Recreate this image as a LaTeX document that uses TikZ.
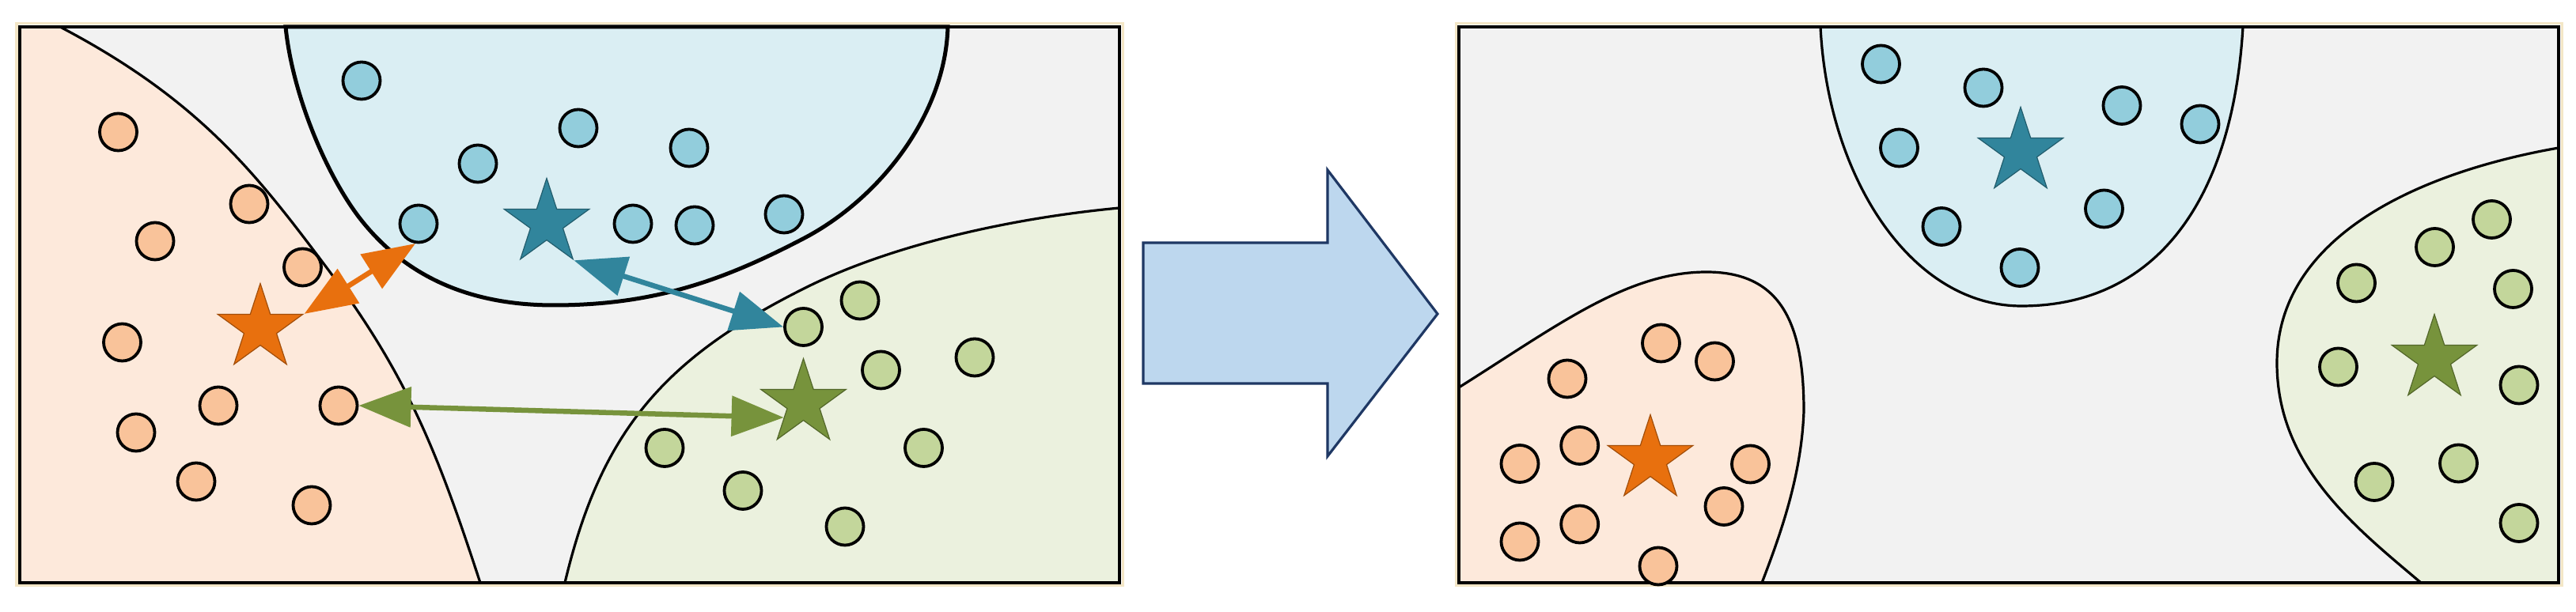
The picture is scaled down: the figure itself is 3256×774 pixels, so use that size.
\documentclass[tikz,border=0pt]{standalone}
\usetikzlibrary{shapes.geometric,arrows.meta}
\definecolor{bgGray}{HTML}{F2F2F2}
\definecolor{oReg}{HTML}{FDE9DB}
\definecolor{bReg}{HTML}{DAEEF3}
\definecolor{gReg}{HTML}{EBF1DE}
\definecolor{oDot}{HTML}{F9C39A}
\definecolor{bDot}{HTML}{92CDDC}
\definecolor{gDot}{HTML}{C3D69B}
\definecolor{oStar}{HTML}{E8700E}
\definecolor{bStar}{HTML}{31859C}
\definecolor{gStar}{HTML}{77933C}
\definecolor{bigFill}{HTML}{BDD7EE}
\definecolor{bigLine}{HTML}{1F3864}
\definecolor{frameBeige}{HTML}{F3E6C6}
\begin{document}
\begin{tikzpicture}[x=0.01cm,y=-0.01cm,
  dot/.style={circle,draw=black,line width=0.038cm,minimum size=0.47cm,inner sep=0pt},
  odot/.style={dot,fill=oDot},
  bdot/.style={dot,fill=bDot},
  gdot/.style={dot,fill=gDot},
  starnode/.style={star,star points=5,star point ratio=2.618,minimum size=1.13cm,inner sep=0pt,line width=0.012cm},
  ostar/.style={starnode,fill=oStar,draw=oStar!70!black},
  bstar/.style={starnode,fill=bStar,draw=bStar!70!black},
  gstar/.style={starnode,fill=gStar,draw=gStar!70!black},
  region/.style={draw=black,line width=0.032cm},
  boldregion/.style={draw=black,line width=0.05cm},
  panel/.style={draw=black,line width=0.032cm},
  beige/.style={draw=frameBeige,line width=0.03cm},
  conn/.style={line width=0.065cm,>={Triangle[length=0.66cm,width=0.5cm]},<->},
  bigarrow/.style={fill=bigFill,draw=bigLine,line width=0.032cm}
]
\fill[white] (0,0) rectangle (3256,774);
\useasboundingbox (0,0) rectangle (3256,774);

% ---------- left panel ----------
\draw[beige] (21,30) rectangle (1419,741);
\fill[bgGray] (25,34) rectangle (1415,737);
\filldraw[fill=oReg,region] (25,34) -- (76,34)
   .. controls (253,127) and (324,220) .. (414,340)
   .. controls (516,476) and (554,575) .. (607,737) -- (25,737) -- cycle;
\filldraw[fill=bReg,boldregion] (361,34)
   .. controls (370,124) and (417,232) .. (462,285)
   .. controls (520,354) and (600,386) .. (700,386)
   .. controls (830,386) and (917,353) .. (1015,302)
   .. controls (1113,251) and (1195,144) .. (1198,34) -- cycle;
\filldraw[fill=gReg,region] (1415,263)
   .. controls (1276,276) and (1127,310) .. (1020,363)
   .. controls (841,452) and (760,543) .. (714,737) -- (1415,737) -- cycle;
\draw[panel] (25,34) rectangle (1415,737);

\node[odot] (lo1) at (149.5,167) {};
\node[odot] (lo2) at (315,258) {};
\node[odot] (lo3) at (196,305) {};
\node[odot] (lo4) at (382.5,338) {};
\node[odot] (lo5) at (154.5,433) {};
\node[odot] (lo6) at (276,513) {};
\node[odot] (lo7) at (428,513) {};
\node[odot] (lo8) at (172,547) {};
\node[odot] (lo9) at (248,609) {};
\node[odot] (lo10) at (394,639) {};
\node[ostar] (los) at (329,415) {};

\node[bdot] (lb1) at (457,102) {};
\node[bdot] (lb2) at (604,207) {};
\node[bdot] (lb3) at (731,162) {};
\node[bdot] (lb4) at (871,187) {};
\node[bdot] (lb5) at (529,283) {};
\node[bdot] (lb6) at (800,283) {};
\node[bdot] (lb7) at (878,285) {};
\node[bdot] (lb8) at (991,271) {};
\node[bstar] (lbs) at (691,282) {};

\node[gdot] (lg1) at (1087,380) {};
\node[gdot] (lg2) at (1015.5,413.5) {};
\node[gdot] (lg3) at (1232,452) {};
\node[gdot] (lg4) at (1113.5,468) {};
\node[gdot] (lg5) at (840,566.5) {};
\node[gdot] (lg6) at (1167.5,566.5) {};
\node[gdot] (lg7) at (939,620.5) {};
\node[gdot] (lg8) at (1068,666) {};
\node[gstar] (lgs) at (1015.5,510) {};

\draw[conn,oStar] (los.18) -- (lb5.261);
\draw[conn,bStar] (lbs.306) -- (lg2.west);
\draw[conn,gStar] (lo7.east) -- (lgs.216);

% ---------- big arrow ----------
\draw[bigarrow] (1445,307) -- (1678,307) -- (1678,215) -- (1817,397) -- (1678,577) -- (1678,485) -- (1445,485) -- cycle;

% ---------- right panel ----------
\draw[beige] (1840,30) rectangle (3238,741);
\fill[bgGray] (1844,34) rectangle (3234,737);
\filldraw[fill=oReg,region] (1844,490)
   .. controls (1971,410) and (2057,344) .. (2157,344)
   .. controls (2252,344) and (2280,410) .. (2280,520)
   .. controls (2277,600) and (2252,672) .. (2227,737) -- (1844,737) -- cycle;
\filldraw[fill=bReg,region] (2301,34)
   .. controls (2310.5,224) and (2415,387) .. (2555,387)
   .. controls (2725,387) and (2822,254) .. (2835,34) -- cycle;
\filldraw[fill=gReg,region] (3234,187)
   .. controls (3057,218) and (2878,299) .. (2878,459)
   .. controls (2878,589) and (2976,666) .. (3060,737) -- (3234,737) -- cycle;
\draw[panel] (1844,34) rectangle (3234,737);

\node[odot] (ro1) at (2099.5,434) {};
\node[odot] (ro2) at (2167.5,457) {};
\node[odot] (ro3) at (1981,479) {};
\node[odot] (ro4) at (1996.7,563.5) {};
\node[odot] (ro5) at (1921,586.5) {};
\node[odot] (ro6) at (2212.5,587) {};
\node[odot] (ro7) at (2179,640.5) {};
\node[odot] (ro8) at (1996.7,663) {};
\node[odot] (ro9) at (1921,685) {};
\node[odot] (ro10) at (2096,716) {};
\node[ostar] (ros) at (2086,581) {};

\node[bdot] (rb1) at (2377.5,81) {};
\node[bdot] (rb2) at (2507,111) {};
\node[bdot] (rb3) at (2682,133.5) {};
\node[bdot] (rb4) at (2400.5,187) {};
\node[bdot] (rb5) at (2781,157) {};
\node[bdot] (rb6) at (2454,286.5) {};
\node[bdot] (rb7) at (2659.5,264) {};
\node[bdot] (rb8) at (2553,338.5) {};
\node[bstar] (rbs) at (2554,192) {};

\node[gdot] (rg1) at (3149.5,277.5) {};
\node[gdot] (rg2) at (3077.5,312.5) {};
\node[gdot] (rg3) at (2978.5,358) {};
\node[gdot] (rg4) at (3176.5,365.5) {};
\node[gdot] (rg5) at (2955.5,464) {};
\node[gdot] (rg6) at (3184,487) {};
\node[gdot] (rg7) at (3107.5,586) {};
\node[gdot] (rg8) at (3001,609.5) {};
\node[gdot] (rg9) at (3184,661.5) {};
\node[gstar] (rgs) at (3077,454) {};
\end{tikzpicture}
\end{document}
